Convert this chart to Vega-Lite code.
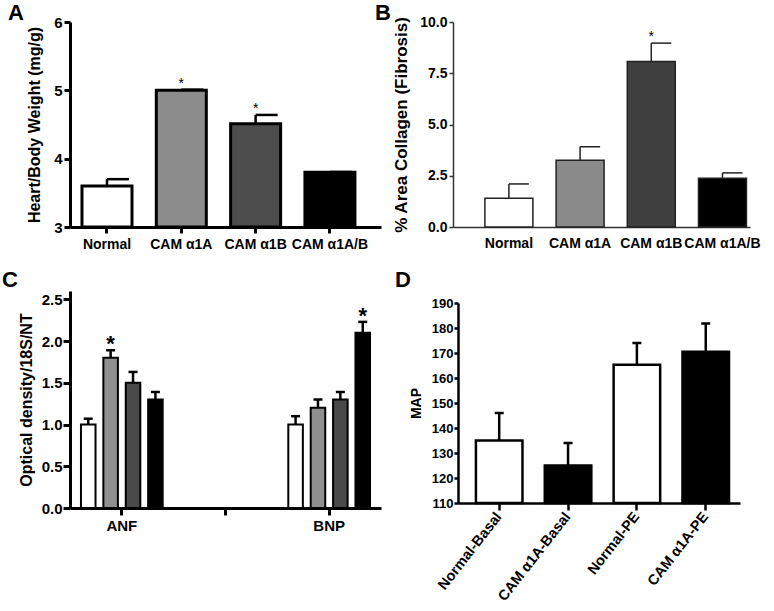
{
  "$schema": "https://vega.github.io/schema/vega-lite/v6.json",
  "background": "white",
  "padding": {"left": 2, "top": 2, "right": 0, "bottom": 0},
  "config": {
    "font": "Liberation Sans",
    "view": {"stroke": null},
    "axis": {"labelFont": "Liberation Sans", "titleFont": "Liberation Sans", "labelColor": "black", "titleColor": "black", "domainColor": "black", "tickColor": "black", "grid": false, "labelFontWeight": "bold", "titleFontWeight": "bold", "labelOverlap": false},
    "title": {"font": "Liberation Sans", "fontSize": 22, "fontWeight": "bold", "anchor": "start", "color": "black", "frame": "group"}
  },
  "spacing": 18,
  "resolve": {"scale": {"fill": "independent", "x": "independent", "y": "independent", "xOffset": "independent"}},
  "vconcat": [
    {
      "spacing": -6,
      "resolve": {"scale": {"fill": "independent", "x": "independent", "y": "independent"}},
      "hconcat": [
        {
          "width": 311, "height": 205,
          "title": {"text": "A", "dx": -62, "offset": -10},
          "data": {"values": [
            {"group": "Normal", "value": 3.6, "upper": 3.7, "sig": ""},
            {"group": "CAM α1A", "value": 5.0, "upper": 5.01, "sig": "*"},
            {"group": "CAM α1B", "value": 4.51, "upper": 4.64, "sig": "*"},
            {"group": "CAM α1A/B", "value": 3.8, "upper": 3.805, "sig": ""}
          ]},
          "encoding": {
            "x": {"field": "group", "type": "nominal", "sort": null,
              "scale": {"paddingInner": 0.327, "paddingOuter": 0.256, "align": 0.315},
              "axis": {"title": null, "labelAngle": 0, "labelFontSize": 14, "domainWidth": 3, "tickWidth": 3, "tickSize": 6, "labelPadding": 4}}
          },
          "layer": [
            {"mark": {"type": "bar", "stroke": "black", "strokeWidth": 3},
             "encoding": {
               "y": {"field": "value", "type": "quantitative", "scale": {"domain": [3, 6], "zero": false},
                 "axis": {"values": [3, 4, 5, 6], "format": "d", "title": "Heart/Body Weight (mg/g)", "titleFontSize": 16, "labelFontSize": 15, "domainWidth": 3, "tickWidth": 3, "tickSize": 6, "labelPadding": 2, "titlePadding": 11}},
               "y2": {"datum": 3},
               "fill": {"field": "group", "type": "nominal", "scale": {"domain": ["Normal", "CAM α1A", "CAM α1B", "CAM α1A/B"], "range": ["#ffffff", "#8c8c8c", "#4d4d4d", "#000000"]}, "legend": null}
             }},
            {"mark": {"type": "rule", "strokeWidth": 2.5, "color": "black"},
             "encoding": {"y": {"field": "value", "type": "quantitative"}, "y2": {"field": "upper"}}},
            {"mark": {"type": "tick", "thickness": 2.5, "size": 22, "xOffset": 11, "color": "black", "opacity": 1},
             "encoding": {"y": {"field": "upper", "type": "quantitative"}}},
            {"mark": {"type": "text", "baseline": "bottom", "dy": 1, "fontSize": 14, "color": "black"},
             "encoding": {"y": {"field": "upper", "type": "quantitative"}, "text": {"field": "sig"}}}
          ]
        },
        {
          "width": 297, "height": 205,
          "title": {"text": "B", "dx": -78, "offset": -10},
          "data": {"values": [
            {"group": "Normal", "value": 1.4, "upper": 2.1, "sig": ""},
            {"group": "CAM α1A", "value": 3.26, "upper": 3.92, "sig": ""},
            {"group": "CAM α1B", "value": 8.07, "upper": 8.97, "sig": "*"},
            {"group": "CAM α1A/B", "value": 2.38, "upper": 2.64, "sig": ""}
          ]},
          "encoding": {
            "x": {"field": "group", "type": "nominal", "sort": null,
              "scale": {"paddingInner": 0.326, "paddingOuter": 0.249, "align": 0.9},
              "axis": {"title": null, "labelAngle": 0, "labelFontSize": 14, "domainWidth": 1.5, "domainColor": "#333333", "ticks": false, "labelPadding": 9}}
          },
          "layer": [
            {"mark": {"type": "bar", "stroke": "#222222", "strokeWidth": 1.5},
             "encoding": {
               "y": {"field": "value", "type": "quantitative", "scale": {"domain": [0, 10]},
                 "axis": {"values": [0, 2.5, 5, 7.5, 10], "format": ".1f", "title": "% Area Collagen (Fibrosis)", "titleFontSize": 17, "labelFontSize": 14, "domainWidth": 1.5, "domainColor": "#333333", "tickColor": "#333333", "tickWidth": 1.5, "tickSize": 4, "labelPadding": 2, "titlePadding": 9}},
               "fill": {"field": "group", "type": "nominal", "scale": {"domain": ["Normal", "CAM α1A", "CAM α1B", "CAM α1A/B"], "range": ["#ffffff", "#8a8a8a", "#404040", "#000000"]}, "legend": null}
             }},
            {"mark": {"type": "rule", "strokeWidth": 1.5, "color": "#222222"},
             "encoding": {"y": {"field": "value", "type": "quantitative"}, "y2": {"field": "upper"}}},
            {"mark": {"type": "tick", "thickness": 1.5, "size": 20, "xOffset": 10, "color": "#222222", "opacity": 1},
             "encoding": {"y": {"field": "upper", "type": "quantitative"}}},
            {"mark": {"type": "text", "baseline": "bottom", "dy": 1, "fontSize": 14, "color": "black"},
             "encoding": {"y": {"field": "upper", "type": "quantitative"}, "text": {"field": "sig"}}}
          ]
        }
      ]
    },
    {
      "spacing": 14,
      "resolve": {"scale": {"fill": "independent", "x": "independent", "y": "independent"}},
      "hconcat": [
        {
          "width": 311, "height": 217,
          "title": {"text": "C", "dx": -68, "offset": -1},
          "data": {"values": [
            {"gene": "ANF", "group": "Normal", "value": 1.0, "upper": 1.07, "sig": ""},
            {"gene": "ANF", "group": "CAM α1A", "value": 1.8, "upper": 1.89, "sig": "*"},
            {"gene": "ANF", "group": "CAM α1B", "value": 1.5, "upper": 1.63, "sig": ""},
            {"gene": "ANF", "group": "CAM α1A/B", "value": 1.3, "upper": 1.39, "sig": ""},
            {"gene": "BNP", "group": "Normal", "value": 1.0, "upper": 1.1, "sig": ""},
            {"gene": "BNP", "group": "CAM α1A", "value": 1.2, "upper": 1.3, "sig": ""},
            {"gene": "BNP", "group": "CAM α1B", "value": 1.3, "upper": 1.39, "sig": ""},
            {"gene": "BNP", "group": "CAM α1A/B", "value": 2.1, "upper": 2.23, "sig": "*"}
          ]},
          "encoding": {
            "x": {"field": "gene", "type": "nominal",
              "scale": {"domain": ["ANF", "mid", "BNP"], "paddingInner": 0, "paddingOuter": 0},
              "axis": {"title": null, "labelAngle": 0, "labelFontSize": 15, "labelExpr": "datum.value == 'mid' ? '' : datum.value", "domainWidth": 3, "tickWidth": 3, "tickSize": 7, "labelPadding": 3}},
            "xOffset": {"field": "group", "type": "nominal", "sort": null,
              "scale": {"domain": ["Normal", "CAM α1A", "CAM α1B", "CAM α1A/B"], "paddingInner": 0.35, "paddingOuter": 0.49}}
          },
          "layer": [
            {"mark": {"type": "bar", "stroke": "black", "strokeWidth": 2},
             "encoding": {
               "y": {"field": "value", "type": "quantitative", "scale": {"domain": [0, 2.5]},
                 "axis": {"values": [0, 0.5, 1, 1.5, 2, 2.5], "format": ".1f", "title": "Optical density/18S/NT", "titleFontSize": 16, "labelFontSize": 15, "domainWidth": 3, "tickWidth": 3, "tickSize": 7, "labelPadding": 1, "titlePadding": 7}},
               "fill": {"field": "group", "type": "nominal", "scale": {"domain": ["Normal", "CAM α1A", "CAM α1B", "CAM α1A/B"], "range": ["#ffffff", "#8f8f8f", "#4a4a4a", "#000000"]}, "legend": null}
             }},
            {"mark": {"type": "rule", "strokeWidth": 2.5, "color": "black"},
             "encoding": {"y": {"field": "value", "type": "quantitative"}, "y2": {"field": "upper"}}},
            {"mark": {"type": "tick", "thickness": 2.5, "size": 9, "color": "black", "opacity": 1},
             "encoding": {"y": {"field": "upper", "type": "quantitative"}}},
            {"mark": {"type": "text", "baseline": "bottom", "dy": 6, "fontSize": 22, "fontWeight": "bold", "color": "black"},
             "encoding": {"y": {"field": "upper", "type": "quantitative"}, "text": {"field": "sig"}}}
          ]
        },
        {
          "width": 282, "height": 212,
          "title": {"text": "D", "dx": -63, "offset": -1},
          "data": {"values": [
            {"group": "Normal-Basal", "value": 135, "upper": 146},
            {"group": "CAM α1A-Basal", "value": 125, "upper": 134},
            {"group": "Normal-PE", "value": 165.3, "upper": 174},
            {"group": "CAM α1A-PE", "value": 170.5, "upper": 181.8}
          ]},
          "encoding": {
            "x": {"field": "group", "type": "nominal", "sort": null,
              "scale": {"paddingInner": 0.324, "paddingOuter": 0.21, "align": 0.62},
              "axis": {"title": null, "labelAngle": -52, "labelAlign": "right", "labelBaseline": "middle", "labelFontSize": 14.5, "domainWidth": 2.5, "tickWidth": 2.5, "tickSize": 7, "labelPadding": 4}},
            "y": {"field": "value", "type": "quantitative", "scale": {"domain": [110, 190], "zero": false, "range": [212, 12]},
              "axis": {"values": [110, 120, 130, 140, 150, 160, 170, 180, 190], "tickCount": 9, "format": "d", "labelOverlap": false, "title": "MAP", "titleFontSize": 14, "labelFontSize": 13, "domainWidth": 2.5, "tickWidth": 2.5, "tickSize": 4, "labelPadding": 1, "titlePadding": 8}}
          },
          "layer": [
            {"mark": {"type": "bar", "stroke": "black", "strokeWidth": 2.5},
             "encoding": {
               "y2": {"datum": 110},
               "fill": {"field": "group", "type": "nominal", "scale": {"domain": ["Normal-Basal", "CAM α1A-Basal", "Normal-PE", "CAM α1A-PE"], "range": ["#ffffff", "#000000", "#ffffff", "#000000"]}, "legend": null}
             }},
            {"mark": {"type": "rule", "strokeWidth": 2.5, "color": "black"},
             "encoding": {"y2": {"field": "upper"}}},
            {"mark": {"type": "tick", "thickness": 2.5, "size": 9, "color": "black", "opacity": 1},
             "encoding": {"y": {"field": "upper", "type": "quantitative"}}}
          ]
        }
      ]
    }
  ]
}
